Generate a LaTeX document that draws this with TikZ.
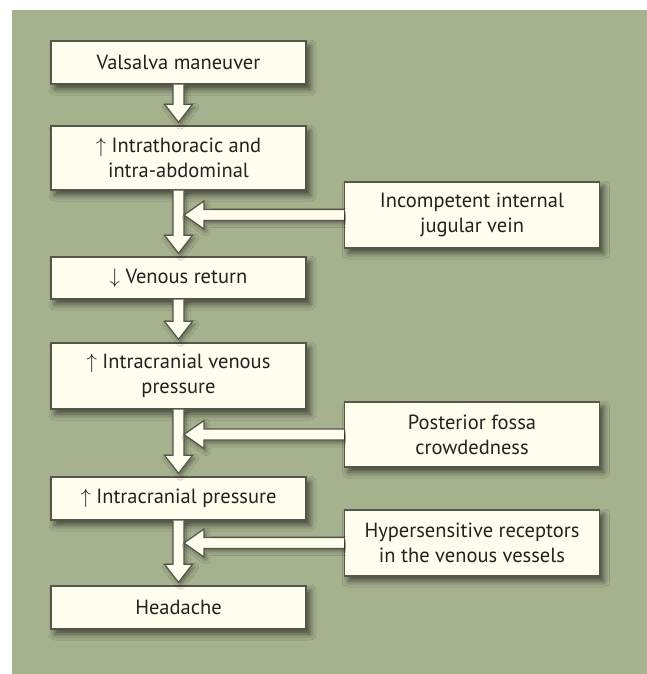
\documentclass[tikz,border=0pt]{standalone}
\usepackage{fontspec}
\setmainfont{PT Sans}
\usetikzlibrary{calc,shadows.blur}
\definecolor{panelgreen}{RGB}{166,177,142}
\definecolor{boxcream}{RGB}{255,253,237}
\definecolor{boxedge}{RGB}{84,86,74}
\definecolor{inktext}{RGB}{34,34,30}
\begin{document}
\begin{tikzpicture}[x=1pt,y=-1pt,font=\fontsize{20.5}{25}\selectfont,
  stepbox/.style={draw=boxedge,fill=boxcream,line width=1.4pt,text=inktext,align=center,
    minimum width=255pt,inner sep=0pt,
    blur shadow={shadow xshift=4pt,shadow yshift=-5pt,shadow blur radius=6pt,shadow opacity=60}},
  fatarrow/.style={draw=boxedge,fill=boxcream,line width=1.2pt,line join=miter,
    blur shadow={shadow xshift=2pt,shadow yshift=-3pt,shadow blur radius=4pt,shadow opacity=40}}]
  \useasboundingbox (0,0) rectangle (647,674);
  \fill[panelgreen] (12,10) rectangle (647,674);
  % main chain
  \node[stepbox,minimum height=43pt] (valsalva) at (178.5,62.5) {Valsalva maneuver};
  \node[stepbox,minimum height=64pt] (intra) at (178.5,158) {$\uparrow$ Intrathoracic and\\intra-abdominal};
  \node[stepbox,minimum height=42pt] (venous) at (178.5,278) {$\downarrow$ Venous return};
  \node[stepbox,minimum height=66pt] (icvp) at (178.5,376) {$\uparrow$ Intracranial venous\\pressure};
  \node[stepbox,minimum height=43pt] (icp) at (178.5,498.5) {$\uparrow$ Intracranial pressure};
  \node[stepbox,minimum height=43pt] (headache) at (178.5,607.5) {Headache};
  % side factors
  \node[stepbox,minimum height=66pt] (incomp) at (472,215) {Incompetent internal\\jugular vein};
  \node[stepbox,minimum height=65pt] (fossa) at (472,434.5) {Posterior fossa\\crowdedness};
  \node[stepbox,minimum height=66pt] (hyper) at (472,543) {Hypersensitive receptors\\in the venous vessels};
  % down arrows
  \draw[fatarrow] ($(valsalva.south)+(-5.5pt,0)$) -- ($(intra.north)+(-5.5pt,21pt)$) -- ($(intra.north)+(-14pt,21pt)$)
    -- ($(intra.north)+(0,3pt)$) -- ($(intra.north)+(14pt,21pt)$) -- ($(intra.north)+(5.5pt,21pt)$) -- ($(valsalva.south)+(5.5pt,0)$);
  \draw[fatarrow] ($(intra.south)+(-5.5pt,0)$) -- ($(venous.north)+(-5.5pt,21pt)$) -- ($(venous.north)+(-14pt,21pt)$)
    -- ($(venous.north)+(0,3pt)$) -- ($(venous.north)+(14pt,21pt)$) -- ($(venous.north)+(5.5pt,21pt)$) -- ($(intra.south)+(5.5pt,0)$);
  \draw[fatarrow] ($(venous.south)+(-5.5pt,0)$) -- ($(icvp.north)+(-5.5pt,21pt)$) -- ($(icvp.north)+(-14pt,21pt)$)
    -- ($(icvp.north)+(0,3pt)$) -- ($(icvp.north)+(14pt,21pt)$) -- ($(icvp.north)+(5.5pt,21pt)$) -- ($(venous.south)+(5.5pt,0)$);
  \draw[fatarrow] ($(icvp.south)+(-5.5pt,0)$) -- ($(icp.north)+(-5.5pt,21pt)$) -- ($(icp.north)+(-14pt,21pt)$)
    -- ($(icp.north)+(0,3pt)$) -- ($(icp.north)+(14pt,21pt)$) -- ($(icp.north)+(5.5pt,21pt)$) -- ($(icvp.south)+(5.5pt,0)$);
  \draw[fatarrow] ($(icp.south)+(-5.5pt,0)$) -- ($(headache.north)+(-5.5pt,21pt)$) -- ($(headache.north)+(-14pt,21pt)$)
    -- ($(headache.north)+(0,3pt)$) -- ($(headache.north)+(14pt,21pt)$) -- ($(headache.north)+(5.5pt,21pt)$) -- ($(icp.south)+(5.5pt,0)$);
  % side arrows, tips on the shafts
  \coordinate (tipA) at ($(incomp.west -| intra.south)+(5.5pt,0)$);
  \coordinate (tipB) at ($(fossa.west -| icvp.south)+(5.5pt,0)$);
  \coordinate (tipC) at ($(hyper.west -| icp.south)+(5.5pt,0)$);
  \draw[fatarrow] ($(incomp.west)+(0,5.5pt)$) -- ($(tipA)+(20pt,5.5pt)$) -- ($(tipA)+(20pt,14pt)$) -- (tipA)
    -- ($(tipA)+(20pt,-14pt)$) -- ($(tipA)+(20pt,-5.5pt)$) -- ($(incomp.west)+(0,-5.5pt)$);
  \draw[fatarrow] ($(fossa.west)+(0,5.5pt)$) -- ($(tipB)+(20pt,5.5pt)$) -- ($(tipB)+(20pt,14pt)$) -- (tipB)
    -- ($(tipB)+(20pt,-14pt)$) -- ($(tipB)+(20pt,-5.5pt)$) -- ($(fossa.west)+(0,-5.5pt)$);
  \draw[fatarrow] ($(hyper.west)+(0,5.5pt)$) -- ($(tipC)+(20pt,5.5pt)$) -- ($(tipC)+(20pt,14pt)$) -- (tipC)
    -- ($(tipC)+(20pt,-14pt)$) -- ($(tipC)+(20pt,-5.5pt)$) -- ($(hyper.west)+(0,-5.5pt)$);
\end{tikzpicture}
\end{document}
